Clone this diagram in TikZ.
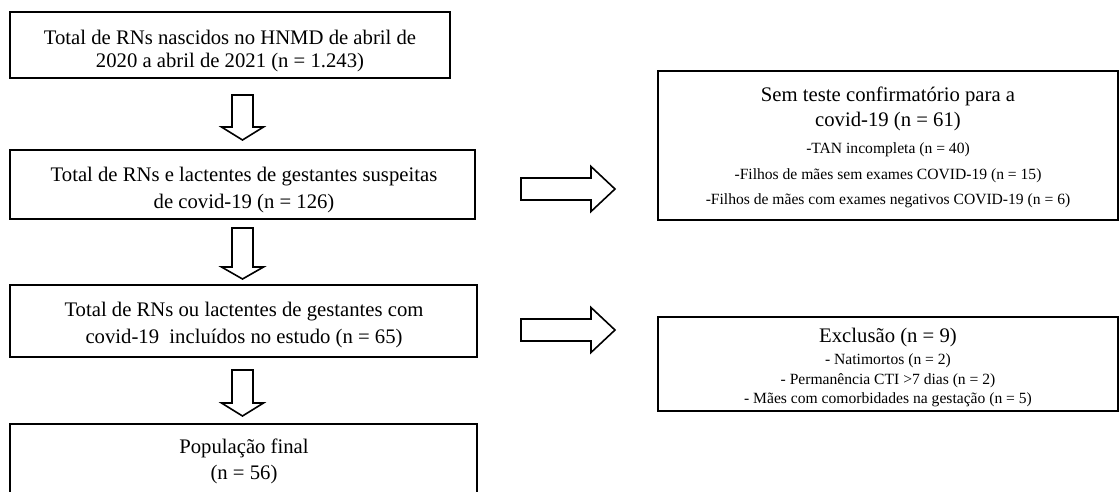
\documentclass[tikz,border=0pt]{standalone}
\usepackage{fontspec}
\setmainfont{Liberation Serif}
\begin{document}
\begin{tikzpicture}[x=1pt,y=-1pt,
  box/.style={draw,line width=2.6pt,inner sep=0pt},
  big/.style={font=\fontsize{20.7}{27}\selectfont,inner sep=0pt,anchor=center},
  small/.style={font=\fontsize{15.6}{20}\selectfont,inner sep=0pt,anchor=center},
  harrow/.style={draw,line width=1.6pt,fill=white,line join=miter}]
\useasboundingbox (0,0) rectangle (1120,491);
% left boxes
\node[box,minimum width=440,minimum height=66] (b1) at (230,45) {};
\node[box,minimum width=465,minimum height=69] (b2) at (242.5,184.5) {};
\node[box,minimum width=467,minimum height=72] (b3) at (243.5,321) {};
\node[box,minimum width=467,minimum height=80] (b4) at (243.5,464) {};
% right boxes
\node[box,minimum width=460,minimum height=149] (ra) at (888,145.5) {};
\node[box,minimum width=460,minimum height=94] (rb) at (888,364) {};
% texts
\node[big] (t1a) at (230,37) {Total de RNs nascidos no HNMD de abril de};
\node[big] (t1b) at (230,63) {2020 a abril de 2021 (n = 1.243)};
\node[big] (t2a) at (244,177) {Total de RNs e lactentes de gestantes suspeitas};
\node[big] (t2b) at (244,204) {de covid-19 (n = 126)};
\node[big] (t3a) at (244,312) {Total de RNs ou lactentes de gestantes com};
\node[big] (t3b) at (244,339) {covid-19\ \ incluídos no estudo (n = 65)};
\node[big] (t4a) at (244,448) {População final};
\node[big] (t4b) at (244,475) {(n = 56)};
\node[big] (ta1) at (888,96) {Sem teste confirmatório para a};
\node[big] (ta2) at (888,122) {covid-19 (n = 61)};
\node[small] (ta3) at (888,150) {-TAN incompleta (n = 40)};
\node[small] (ta4) at (888,176) {-Filhos de mães sem exames COVID-19 (n = 15)};
\node[small] (ta5) at (888,201) {-Filhos de mães com exames negativos COVID-19 (n = 6)};
\node[big] (tb1) at (888,338) {Exclusão (n = 9)};
\node[small] (tb2) at (888,361) {- Natimortos (n = 2)};
\node[small] (tb3) at (888,381) {- Permanência CTI >7 dias (n = 2)};
\node[small] (tb4) at (888,400) {- Mães com comorbidades na gestação (n = 5)};
% hollow down arrows
\coordinate (d1) at (242.5,95);
\coordinate (d2) at (242.5,228);
\coordinate (d3) at (242.5,370);
\draw[harrow] (d1) ++(-10.5,0) -- ++(0,32) -- ++(-10.5,0) -- ++(21,13) -- ++(21,-13) -- ++(-10.5,0) -- ++(0,-32) -- cycle;
\draw[harrow] (d2) ++(-10.5,0) -- ++(0,39) -- ++(-10.5,0) -- ++(21,12) -- ++(21,-12) -- ++(-10.5,0) -- ++(0,-39) -- cycle;
\draw[harrow] (d3) ++(-10.5,0) -- ++(0,33) -- ++(-10.5,0) -- ++(21,13) -- ++(21,-13) -- ++(-10.5,0) -- ++(0,-33) -- cycle;
% hollow right arrows
\coordinate (r1) at (521,189);
\coordinate (r2) at (521,330);
\draw[harrow] (r1) ++(0,-11) -- ++(70,0) -- ++(0,-11.5) -- ++(24,22.5) -- ++(-24,22.5) -- ++(0,-11.5) -- ++(-70,0) -- cycle;
\draw[harrow] (r2) ++(0,-11) -- ++(70,0) -- ++(0,-11.5) -- ++(24,22.5) -- ++(-24,22.5) -- ++(0,-11.5) -- ++(-70,0) -- cycle;
\end{tikzpicture}
\end{document}
